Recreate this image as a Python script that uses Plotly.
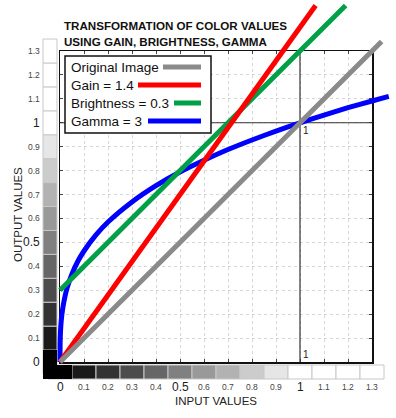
import plotly.graph_objects as go

# ---------------- data ----------------
original_x = [0, 1.34]
original_y = [0, 1.34]
gain_x = [0, 1.065]
gain_y = [0, 1.49]
bright_x = [0, 1.19]
bright_y = [0.3, 1.49]
gamma_x = [0, 0.0005, 0.002, 0.005, 0.01, 0.02, 0.03, 0.05, 0.075, 0.1, 0.15, 0.2,
           0.3, 0.4, 0.5, 0.6, 0.7, 0.8, 0.9, 1.0, 1.1, 1.2, 1.3, 1.37]
gamma_y = [0, 0.079, 0.126, 0.171, 0.215, 0.271, 0.311, 0.368, 0.422, 0.464, 0.531, 0.585,
           0.669, 0.737, 0.794, 0.843, 0.888, 0.928, 0.965, 1.0, 1.032, 1.063, 1.091, 1.110]

series_names = ["Original Image", "Gain = 1.4", "Brightness = 0.3", "Gamma = 3"]
series_colors = ["#8a8a8a", "#ff0000", "#00a046", "#0000ff"]

scale_values = [0, 0.1, 0.2, 0.3, 0.4, 0.5, 0.6, 0.7, 0.8, 0.9, 1.0, 1.1, 1.2, 1.3]
tick_labels = ["0", "0.1", "0.2", "0.3", "0.4", "0.5", "0.6", "0.7", "0.8", "0.9",
               "1", "1.1", "1.2", "1.3"]
big_ticks = ["0", "0.5", "1"]

# ---------------- geometry ----------------
W, H = 396, 418
X0, X1 = 60, 372      # pixel of x=0, x=1.3
Y0, Y1 = 362, 51      # pixel of y=0, y=1.3
PXX = (X1 - X0) / 1.3
PXY = (Y0 - Y1) / 1.3

def px(p):
    return p / W

def py(p):
    return (H - p) / H

def dx(p):  # pixel -> data x (overlay subplot)
    return (p - X0) / PXX

def dy(p):  # pixel -> data y (overlay subplot)
    return (Y0 - p) / PXY

FONT = "Arial, Liberation Sans, sans-serif"

fig = go.Figure()

# grayscale bars (overlay subplot)
grays = []
for v in scale_values:
    g = int(round(min(v, 1.0) * 255))
    grays.append(f"rgb({g},{g},{g})")

n = len(scale_values)
fig.add_trace(go.Bar(
    x=scale_values, y=[dy(365) - dy(379)] * n, base=[dy(379)] * n, width=0.1,
    marker=dict(color=grays, line=dict(color="#c8c8c8", width=1)),
    xaxis="x2", yaxis="y2", showlegend=False, hoverinfo="skip"))
fig.add_trace(go.Bar(
    y=scale_values, x=[dx(57) - dx(43)] * n, base=[dx(43)] * n, width=0.1,
    orientation="h",
    marker=dict(color=grays, line=dict(color="#c8c8c8", width=1)),
    xaxis="x2", yaxis="y2", showlegend=False, hoverinfo="skip"))

# reference lines at input = 1 and output = 1 (drawn under the curves)
fig.add_trace(go.Scatter(x=[1, 1], y=[0, 1.3], mode="lines",
                         line=dict(color="#333333", width=1.2),
                         xaxis="x2", yaxis="y2", showlegend=False, hoverinfo="skip"))
fig.add_trace(go.Scatter(x=[0, 1.3], y=[1, 1], mode="lines",
                         line=dict(color="#333333", width=1.2),
                         xaxis="x2", yaxis="y2", showlegend=False, hoverinfo="skip"))

# curves (drawn bottom -> top)
for xs, ys, idx in [(gamma_x, gamma_y, 3), (bright_x, bright_y, 2),
                    (gain_x, gain_y, 1), (original_x, original_y, 0)]:
    fig.add_trace(go.Scatter(
        x=xs, y=ys, mode="lines", name=series_names[idx],
        line=dict(color=series_colors[idx], width=5, shape="spline" if idx == 3 else "linear",
                  smoothing=0.6),
        xaxis="x2", yaxis="y2", showlegend=False, hoverinfo="skip"))

# dummy trace on the frame subplot so its axes are drawn
fig.add_trace(go.Scatter(x=[0], y=[0], mode="markers", marker=dict(opacity=0),
                         showlegend=False, hoverinfo="skip"))

axis_common = dict(range=[0, 1.3], tick0=0, dtick=0.1, showgrid=True, gridcolor="#d6d6d6",
                   griddash="dot", gridwidth=1, zeroline=False, showline=True,
                   linecolor="#111111", linewidth=1.5, mirror="ticks", ticks="inside",
                   ticklen=3, tickcolor="#444444", tickwidth=1, showticklabels=False,
                   fixedrange=True)

fig.update_layout(
    width=W, height=H, margin=dict(l=0, r=0, t=0, b=0),
    paper_bgcolor="white", plot_bgcolor="rgba(0,0,0,0)",
    barmode="overlay", showlegend=False,
    font=dict(family=FONT, color="#222222"),
    xaxis=dict(domain=[px(X0), px(X1)], anchor="y", **axis_common),
    yaxis=dict(domain=[py(Y0), py(Y1)], anchor="x", **axis_common),
    xaxis2=dict(domain=[0, 1], anchor="y2", range=[dx(0), dx(W)], visible=False, fixedrange=True),
    yaxis2=dict(domain=[0, 1], anchor="x2", range=[dy(H), dy(0)], visible=False, fixedrange=True),
)

shapes = []
# black corner of the gray scales
shapes.append(dict(type="rect", xref="paper", yref="paper", x0=px(43), x1=px(72),
                   y0=py(379), y1=py(365), fillcolor="black", line=dict(width=0), layer="above"))
shapes.append(dict(type="rect", xref="paper", yref="paper", x0=px(43), x1=px(57),
                   y0=py(379), y1=py(350), fillcolor="black", line=dict(width=0), layer="above"))
# legend box
shapes.append(dict(type="rect", xref="paper", yref="paper", x0=px(65), x1=px(211),
                   y0=py(133), y1=py(56), fillcolor="white",
                   line=dict(color="#111111", width=1.5), layer="above"))
legend_y = [67, 85, 103, 121]
legend_line_start = [163, 138, 174, 148]
for i in range(4):
    shapes.append(dict(type="line", xref="paper", yref="paper",
                       x0=px(legend_line_start[i]), x1=px(201),
                       y0=py(legend_y[i]), y1=py(legend_y[i]),
                       line=dict(color=series_colors[i], width=5), layer="above"))

annotations = []
for i in range(4):
    annotations.append(dict(text=series_names[i], xref="paper", yref="paper",
                            x=px(69), y=py(legend_y[i]), xanchor="left", yanchor="middle",
                            showarrow=False, font=dict(size=13.5, color="#111111")))

# title
annotations.append(dict(text="<b>TRANSFORMATION OF COLOR VALUES</b>", xref="paper", yref="paper",
                        x=px(62), y=py(26), xanchor="left", yanchor="middle", showarrow=False,
                        font=dict(size=11.6, color="#111111")))
annotations.append(dict(text="<b>USING GAIN, BRIGHTNESS, GAMMA</b>", xref="paper", yref="paper",
                        x=px(62), y=py(41), xanchor="left", yanchor="middle", showarrow=False,
                        font=dict(size=11.6, color="#111111")))

# tick labels
for v, t in zip(scale_values, tick_labels):
    big = t in big_ticks
    f = dict(size=12 if big else 8.5, color="#222222" if big else "#444444")
    annotations.append(dict(text=t, xref="x", yref="paper", x=v, y=py(386.5),
                            xanchor="center", yanchor="middle", showarrow=False, font=f))
    annotations.append(dict(text=t, xref="paper", yref="y", x=px(42), y=v,
                            xanchor="right", yanchor="middle", showarrow=False, font=f))

# "1" markers near reference lines
annotations.append(dict(text="1", xref="x", yref="y", x=1, y=0, xanchor="left", yanchor="bottom",
                        xshift=1, yshift=0, showarrow=False, font=dict(size=10, color="#222222")))
annotations.append(dict(text="1", xref="x", yref="y", x=1, y=1, xanchor="left", yanchor="top",
                        xshift=1, yshift=0, showarrow=False, font=dict(size=10, color="#222222")))

# axis titles
annotations.append(dict(text="INPUT VALUES", xref="paper", yref="paper", x=px(216), y=py(401),
                        xanchor="center", yanchor="middle", showarrow=False,
                        font=dict(size=11.5, color="#222222")))
annotations.append(dict(text="OUTPUT VALUES", xref="paper", yref="paper", x=px(18), y=py(215),
                        xanchor="center", yanchor="middle", textangle=-90, showarrow=False,
                        font=dict(size=11.5, color="#222222")))

fig.update_layout(shapes=shapes, annotations=annotations)

fig.write_html("out.html", config={"displayModeBar": False, "staticPlot": True},
               post_script="document.body.style.margin='0';document.body.style.overflow='hidden';")
